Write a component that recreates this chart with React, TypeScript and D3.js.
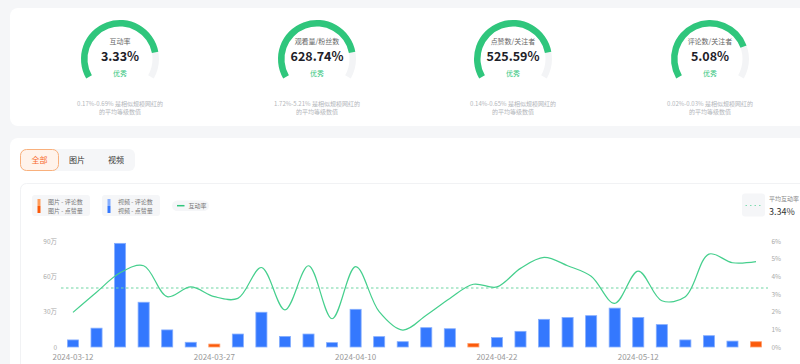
import * as d3 from "d3";

// Gauge cards
const GAUGE_LABELS = ["互动率", "观看量/粉丝数", "点赞数/关注者", "评论数/关注者"];
const GAUGE_VALUES = ["3.33%", "628.74%", "525.59%", "5.08%"];
const GAUGE_FILL = [0.83, 0.83, 0.83, 0.79];
const GAUGE_RANGES = ["0.17%-0.69%", "1.72%-5.21%", "0.14%-0.65%", "0.02%-0.03%"];

// Chart data
const DATES = [
  "2024-03-12", "2024-03-14", "2024-03-17", "2024-03-19", "2024-03-21", "2024-03-24",
  "2024-03-27", "2024-03-29", "2024-03-31", "2024-04-02", "2024-04-05", "2024-04-08",
  "2024-04-10", "2024-04-12", "2024-04-14", "2024-04-16", "2024-04-18", "2024-04-20",
  "2024-04-22", "2024-04-25", "2024-04-28", "2024-05-01", "2024-05-05", "2024-05-08",
  "2024-05-12", "2024-05-15", "2024-05-18", "2024-05-21", "2024-05-24", "2024-05-27",
];
// 点赞量 (万), type: 1 = 图片, 0 = 视频
const LIKES = [6, 16, 88, 38, 14.5, 4, 2.5, 11, 29.5, 9, 11, 3.7, 32, 8.8, 4.5, 16.4, 15.5, 3, 8, 13.3,
  23.5, 25, 26.6, 33, 25, 19, 6, 9.6, 5, 4.5];
const IS_PHOTO = [0, 0, 0, 0, 0, 0, 1, 0, 0, 0, 0, 0, 0, 0, 0, 0, 0, 1, 0, 0, 0, 0, 0, 0, 0, 0, 0, 0, 0, 1];
// 互动率 (%)
const RATE = [1.96, 3.1, 4.2, 4.6, 2.85, 3.4, 2.85, 2.75, 4.5, 2.1, 4.6, 1.6, 4.55, 2.0, 0.96, 1.8, 2.75,
  3.55, 3.4, 4.45, 5.07, 4.6, 4.0, 2.47, 4.3, 2.62, 2.85, 5.26, 4.77, 4.83];
const AVG_RATE = 3.34;
const LEFT_TICKS = [0, 30, 60, 90];
const RIGHT_TICKS = [0, 1, 2, 3, 4, 5, 6];

const FONT = "'Noto Sans CJK SC', 'Noto Sans', sans-serif";
const GREEN = "#2fc67c";
const BLUE = "#3478fe";
const ORANGE = "#fb5a0a";

const Gauge = ({ cx, i }: { cx: number; i: number }) => {
  const cy = 59;
  const start = (-120 * Math.PI) / 180;
  const end = (120 * Math.PI) / 180;
  const arc = d3.arc<{ s: number; e: number }>()
    .innerRadius(32.5)
    .outerRadius(39)
    .startAngle((d) => d.s)
    .endAngle((d) => d.e);
  const fillEnd = start + (end - start) * GAUGE_FILL[i];
  return (
    <g>
      <g transform={`translate(${cx},${cy})`}>
        <path d={arc({ s: start, e: end }) || ""} fill="#f3f4f6" />
        <path d={arc({ s: start, e: fillEnd }) || ""} fill={GREEN} />
        <text y={-15} textAnchor="middle" fontSize={7} fill="#666">{GAUGE_LABELS[i]}</text>
        <text y={1.5} textAnchor="middle" fontSize={12.5} fontWeight={600} fill="#1d2129">{GAUGE_VALUES[i]}</text>
        <text y={17} textAnchor="middle" fontSize={7} fill={GREEN}>优秀</text>
      </g>
      <text x={cx} y={106} textAnchor="middle" fontSize={6} fill="#b3b6bb">{GAUGE_RANGES[i]} 是相似规模网红的</text>
      <text x={cx} y={114} textAnchor="middle" fontSize={6} fill="#b3b6bb">的平均等级数值</text>
    </g>
  );
};

export default function App() {
  const x = d3.scaleBand<string>().domain(DATES).range([61.2, 767.8]).paddingInner(0.53).paddingOuter(0.265);
  const yL = d3.scaleLinear().domain([0, 90]).range([347, 241]);
  const yR = d3.scaleLinear().domain([0, 6]).range([347, 241]);
  const cxOf = (d: string) => (x(d) || 0) + x.bandwidth() / 2;

  const line = d3.line<number>()
    .x((_, i) => cxOf(DATES[i]))
    .y((d) => yR(d))
    .curve(d3.curveCatmullRom.alpha(0.5));

  const gaugeX = [120, 317, 513, 710];

  return (
    <svg width={800} height={364} style={{ position: "absolute", left: 0, top: 0, fontFamily: FONT }}>
      <rect width={800} height={364} fill="#f5f6f8" />
      {/* top card */}
      <rect x={10} y={8} width={800} height={118} rx={8} fill="#fff" />
      {gaugeX.map((cx, i) => <Gauge key={i} cx={cx} i={i} />)}

      {/* bottom card */}
      <rect x={10} y={138} width={800} height={240} rx={8} fill="#fff" />
      <rect x={20} y={149} width={115} height={22} rx={6} fill="#f5f6f8" />
      <rect x={20.5} y={149.5} width={38} height={21} rx={6} fill="#fff3eb" stroke="#f9b07c" />
      <text x={39.5} y={163} textAnchor="middle" fontSize={8} fill="#f86a2b">全部</text>
      <text x={77} y={163} textAnchor="middle" fontSize={8} fill="#333">图片</text>
      <text x={116} y={163} textAnchor="middle" fontSize={8} fill="#333">视频</text>

      {/* inner panel */}
      <rect x={20.5} y={183.5} width={800} height={200} rx={6} fill="#fff" stroke="#f1f2f4" />

      {/* legends */}
      <rect x={32} y={195} width={58} height={21} rx={3} fill="#f5f6f8" />
      <rect x={37.5} y={199} width={3} height={7} fill="#ff9d5c" />
      <rect x={37.5} y={206} width={3} height={7} fill={ORANGE} />
      <text x={48} y={204} fontSize={6} fill="#777">图片 - 评论数</text>
      <text x={48} y={212.5} fontSize={6} fill="#777">图片 - 点赞量</text>

      <rect x={102} y={195} width={58} height={21} rx={3} fill="#f5f6f8" />
      <rect x={107.5} y={199} width={3} height={7} fill="#86aefe" />
      <rect x={107.5} y={206} width={3} height={7} fill={BLUE} />
      <text x={118} y={204} fontSize={6} fill="#777">视频 - 评论数</text>
      <text x={118} y={212.5} fontSize={6} fill="#777">视频 - 点赞量</text>

      <rect x={172} y={200.5} width={37} height={10.5} rx={5.25} fill="#f5f6f8" />
      <line x1={177} x2={184.5} y1={205.7} y2={205.7} stroke={GREEN} strokeWidth={1.5} />
      <text x={188.5} y={208} fontSize={6} fill="#777">互动率</text>

      <rect x={742} y={193.5} width={23} height={23} rx={3} fill="#f5f6f8" />
      <line x1={745.5} x2={762} y1={205.5} y2={205.5} stroke="#7fdcb0" strokeWidth={1.2} strokeDasharray="1.5 3" />
      <text x={769} y={201} fontSize={6} fill="#888">平均互动率</text>
      <text x={769} y={214.5} fontSize={9} fill="#333">3.34%</text>

      {/* axes labels */}
      {LEFT_TICKS.map((t) => (
        <text key={t} x={57} y={yL(t) + 2.5} textAnchor="end" fontSize={6.5} fill="#aaa">
          {t === 0 ? "0" : `${t}万`}
        </text>
      ))}
      {RIGHT_TICKS.map((t) => (
        <text key={t} x={771.5} y={yR(t) + 2.5} fontSize={6.5} fill="#aaa">{`${t}%`}</text>
      ))}
      {DATES.map((d, i) => i % 6 === 0 && (
        <text key={d} x={cxOf(d)} y={360} textAnchor="middle" fontSize={8} fill="#999">{d}</text>
      ))}

      {/* bars */}
      {DATES.map((d, i) => (
        <rect
          key={d}
          x={x(d)}
          y={yL(LIKES[i])}
          width={x.bandwidth()}
          height={yL(0) - yL(LIKES[i])}
          fill={IS_PHOTO[i] ? ORANGE : BLUE}
          stroke={IS_PHOTO[i] ? "#ffa070" : "#86aefe"}
          strokeWidth={0.8}
        />
      ))}

      {/* average dashed line */}
      <line x1={61} x2={768} y1={yR(AVG_RATE)} y2={yR(AVG_RATE)} stroke="#6fd6a4" strokeWidth={1.2} strokeDasharray="2.5 2.5" />

      <path d={line(RATE) || ""} fill="none" stroke="#45cf8d" strokeWidth={1.2} />
    </svg>
  );
}
